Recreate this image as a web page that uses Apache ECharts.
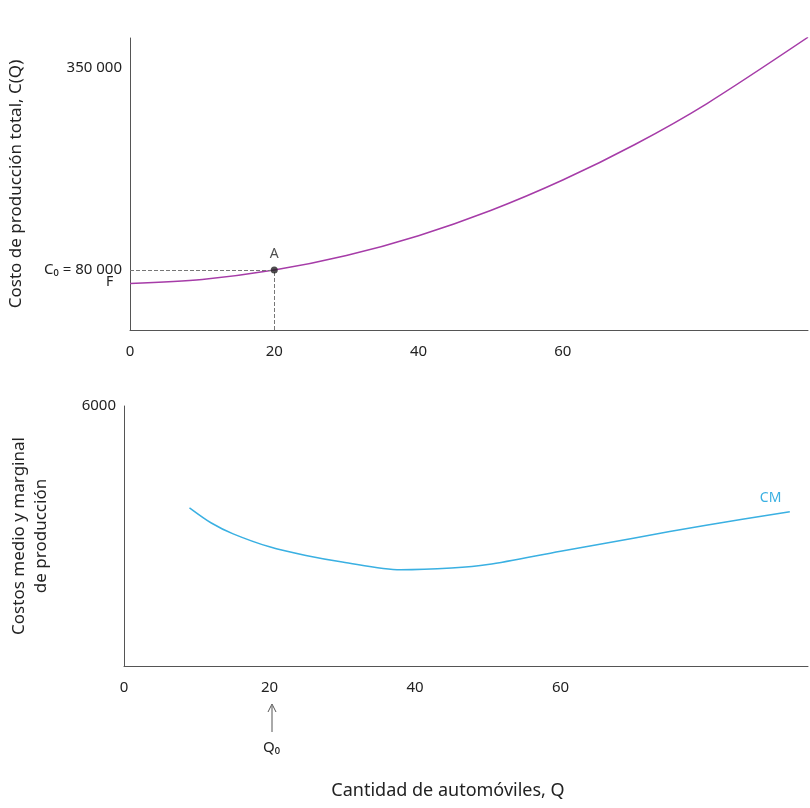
<!DOCTYPE html>
<html><head><meta charset="utf-8">
<script src="https://cdn.jsdelivr.net/npm/echarts@6/dist/echarts.min.js"></script>
<style>body{margin:0}#c{width:810px;height:808px}</style></head>
<body><div id="c"></div>
<script>
const qTotal = [0,10,20,30,40,50,60,70,80,94];
const costTotal = [62000,67500,80000,99500,126000,159600,200300,247800,302500,391000];
const qAvg = [9,12,15,20,25,30,38,45,50,60,70,80,91.5];
const costAvg = [3650,3300,3050,2750,2550,2400,2220,2260,2340,2650,2950,3250,3560];
const xTicks = [0,20,40,60];
const pointA = [20,80000];
const F = 62000;

const font = 'Noto Sans';
const txt = '#222';
const chart = echarts.init(document.getElementById('c'));
const axisLine = {lineStyle:{color:'#555',width:1}};
chart.setOption({
  textStyle:{fontFamily:font},
  grid:[{left:127,right:2,top:38,bottom:478},{left:124,right:2,top:406,bottom:142}],
  xAxis:[
    {gridIndex:0,type:'value',min:0,max:94,axisLine:axisLine,axisTick:{show:false},splitLine:{show:false},
     axisLabel:{customValues:xTicks,color:txt,fontSize:15,margin:14}},
    {gridIndex:1,type:'value',min:0,max:94,axisLine:axisLine,axisTick:{show:false},splitLine:{show:false},
     axisLabel:{customValues:xTicks,color:txt,fontSize:15,margin:14}}
  ],
  yAxis:[
    {gridIndex:0,type:'value',min:0,max:390000,axisLine:{show:true,...axisLine},axisTick:{show:false},splitLine:{show:false},
     axisLabel:{customValues:[pointA[1],350000],color:txt,fontSize:15,hideOverlap:false,
       formatter:v=>v===350000?'350 000':'C₀ = 80 000'},
     name:'Costo de producción total, C(Q)',nameLocation:'middle',nameRotate:90,nameGap:105,nameTextStyle:{fontSize:17,color:txt}},
    {gridIndex:1,type:'value',min:0,max:6000,axisLine:{show:true,...axisLine},axisTick:{show:false},splitLine:{show:false},
     axisLabel:{customValues:[6000],color:txt,fontSize:15,formatter:v=>String(v)},
     name:'Costos medio y marginal\nde producción',nameLocation:'middle',nameRotate:90,nameGap:72,nameTextStyle:{fontSize:17,color:txt,lineHeight:22}}
  ],
  series:[
    {type:'line',xAxisIndex:0,yAxisIndex:0,data:qTotal.map((q,i)=>[q,costTotal[i]]),smooth:0.3,symbol:'none',
     lineStyle:{color:'#a63ca8',width:1.5},
     markLine:{silent:true,symbol:'none',label:{show:false},lineStyle:{color:'#777',type:'dashed',width:1},
       data:[[{coord:[0,pointA[1]]},{coord:pointA}],[{coord:[pointA[0],0]},{coord:pointA}]]}},
    {type:'scatter',xAxisIndex:0,yAxisIndex:0,data:[pointA],symbolSize:7,itemStyle:{color:'#222'},
     label:{show:true,position:'top',formatter:'A',color:txt,fontSize:14,distance:6},z:5},
    {type:'line',xAxisIndex:1,yAxisIndex:1,data:qAvg.map((q,i)=>[q,costAvg[i]]),smooth:0.3,symbol:'none',
     lineStyle:{color:'#3ab0e2',width:1.5},
     endLabel:{show:true,formatter:'CM',color:'#3ab0e2',fontSize:14,offset:[-38,-14]}}
  ],
  graphic:[
    {type:'text',x:106,y:275,style:{text:'F',fontSize:14,fill:txt,fontFamily:font}},
    {type:'line',shape:{x1:272,y1:732,x2:272,y2:706},style:{stroke:'#555',lineWidth:1}},
    {type:'polyline',shape:{points:[[268,712],[272,704],[276,712]]},style:{stroke:'#555',lineWidth:1,fill:null}},
    {type:'text',x:263,y:740,style:{text:'Q₀',fontSize:15,fill:txt,fontFamily:font}},
    {type:'text',x:448,y:782,style:{text:'Cantidad de automóviles, Q',fontSize:18,fill:txt,fontFamily:font,align:'center'}}
  ]
});
</script></body></html>
